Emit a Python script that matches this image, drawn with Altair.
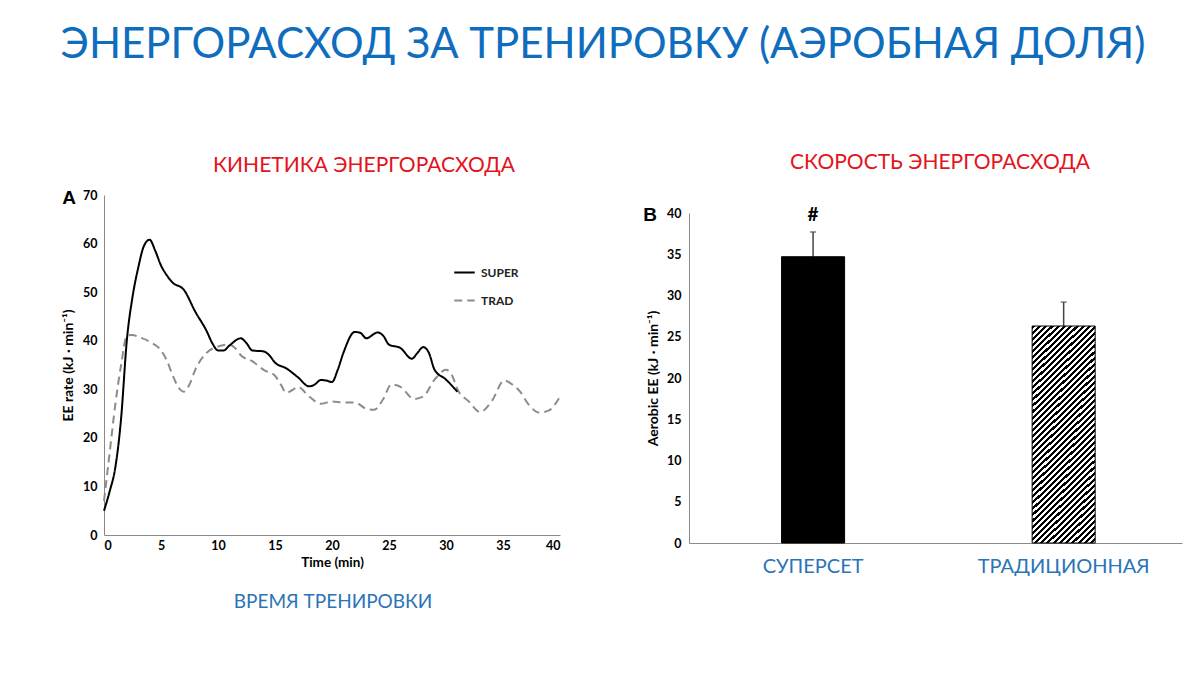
import altair as alt
import pandas as pd

# ---------------- data ----------------
series_names = ["SUPER", "TRAD"]

super_t = [0, 0.5, 1, 1.5, 2, 2.5, 3, 3.5, 4, 4.5, 5, 5.5, 6, 7, 8, 9, 9.5, 10, 10.5, 11,
           12, 12.5, 13, 14, 14.5, 15, 16, 17, 18, 18.5, 19, 19.5, 20, 20.5, 21, 22, 22.5,
           23, 24, 24.5, 25, 26, 27, 27.5, 28, 28.5, 29, 30, 31]
super_v = [5, 9, 14, 24, 40, 49, 55, 59.5, 60.8, 58.5, 55.5, 53.5, 52, 50.5, 46, 42, 39.5, 38, 38, 39,
           40.5, 39.5, 38, 37.8, 37, 35.5, 34.3, 32.5, 30.6, 31, 31.9, 31.8, 31.5, 34, 37.5, 41.8, 41.6,
           40.5, 41.7, 41, 39.2, 38.5, 36.3, 37.5, 38.7, 37.5, 34, 32, 29.5]

trad_t = [0, 0.5, 1, 1.5, 2, 2.5, 3, 4, 5, 5.5, 6, 6.5, 7, 7.5, 8, 9, 10, 11, 11.5, 12,
          13, 14, 15, 15.5, 16, 16.5, 17, 18, 19, 20, 21, 22, 23, 23.7, 24.5, 25.2, 26, 27.2,
          28, 29, 30, 30.5, 31, 32, 33, 34, 35.1, 35.8, 36.5, 37.2, 38.2, 39, 40]
trad_v = [7, 17, 27, 35, 41, 41.2, 40.8, 39.8, 38, 36, 33, 30.5, 29.5, 31, 34, 37.5, 38.8, 39.2, 38.5, 37,
          35.8, 34, 32.8, 31, 29.3, 29.8, 30.5, 28.5, 27, 27.5, 27.3, 27.3, 26, 25.8, 28, 31, 30.5, 28,
          28.5, 32, 34, 33, 30, 27.5, 25.3, 27.5, 31.8, 31, 29.5, 27, 25.2, 25.6, 28.5]

bar_cats = ["СУПЕРСЕТ", "ТРАДИЦИОННАЯ"]
bar_vals = [34.7, 26.3]
bar_err = [3.0, 2.9]

x_ticks_a = [0, 5, 10, 15, 20, 25, 30, 35, 40]
y_ticks_a = [0, 10, 20, 30, 40, 50, 60, 70]
y_ticks_b = [0, 5, 10, 15, 20, 25, 30, 35, 40]

main_title = ["ЭНЕРГОРАСХОД ЗА ТРЕНИРОВКУ (АЭРОБНАЯ ДОЛЯ)"]
sub_a = ["КИНЕТИКА ЭНЕРГОРАСХОДА"]
sub_b = ["СКОРОСТЬ ЭНЕРГОРАСХОДА"]
xnote_a = ["ВРЕМЯ ТРЕНИРОВКИ"]
panel_a = ["A"]
panel_b = ["B"]
sig_mark = ["#"]

# ---------------- styles ----------------
FONT = "Lato"
BLUE = "#0F6DBE"
BLUE2 = "#2A74B7"
RED = "#E3141C"
AXC = "#8A8A8A"

W_A, H_A = 456, 340
W_B, H_B = 493, 348

lines_df = pd.concat([
    pd.DataFrame({"t": super_t, "v": super_v, "s": series_names[0]}),
    pd.DataFrame({"t": trad_t, "v": trad_v, "s": series_names[1]}),
], ignore_index=True)

leg = alt.Legend(title=None, orient="none", legendX=349, legendY=66,
                 symbolType="stroke", symbolSize=420, symbolStrokeWidth=2,
                 labelFont=FONT, labelFontSize=12, labelFontWeight="bold",
                 labelColor="#222", rowPadding=10, padding=0, labelOffset=5)

color = alt.Color("s:N", scale=alt.Scale(domain=series_names, range=["#000000", "#8C8C8C"]), legend=leg)
dash = alt.StrokeDash("s:N", scale=alt.Scale(domain=series_names, range=[[1, 0], [8, 5]]), legend=leg)

xa = alt.X("t:Q", scale=alt.Scale(domain=[0, 40], nice=False),
           axis=alt.Axis(values=x_ticks_a, title="Time (min)", grid=False, ticks=False,
                         labelPadding=4, titlePadding=4, domainColor=AXC,
                         labelFont=FONT, labelFontSize=12.5, labelFontWeight="bold", labelColor="#000",
                         titleFont=FONT, titleFontSize=13.5, titleFontWeight="bold", titleColor="#000"))
ya = alt.Y("v:Q", scale=alt.Scale(domain=[0, 70], nice=False),
           axis=alt.Axis(values=y_ticks_a, title="EE rate (kJ · min⁻¹)", grid=False, ticks=False,
                         labelPadding=7, titlePadding=7, domainColor=AXC,
                         labelFont=FONT, labelFontSize=12.5, labelFontWeight="bold", labelColor="#000",
                         titleFont=FONT, titleFontSize=14, titleFontWeight="bold", titleColor="#000"))

base_lines = alt.Chart(lines_df)
trad_line = base_lines.transform_filter(alt.datum.s == "TRAD").mark_line(
    interpolate="monotone", strokeWidth=2).encode(x=xa, y=ya, color=color, strokeDash=dash)
super_line = base_lines.transform_filter(alt.datum.s == "SUPER").mark_line(
    interpolate="monotone", strokeWidth=2).encode(x=xa, y=ya, color=color, strokeDash=dash)


def label(txt, x, y, size, col, weight="normal", font=FONT):
    return alt.Chart(pd.DataFrame({"txt": txt})).mark_text(
        font=font, fontSize=size, fontWeight=weight, color=col, align="center", baseline="middle"
    ).encode(x=alt.value(x), y=alt.value(y), text="txt:N")


panel_A = alt.layer(
    trad_line, super_line,
    label(main_title, 499, -150, 42, BLUE),
    label(sub_a, 260, -29, 21, RED),
    label(panel_a, -35, 3, 19, "#000", "bold", "Liberation Sans"),
    label(xnote_a, 229, 407, 19, BLUE2),
).properties(width=W_A, height=H_A)

# ---------------- panel B ----------------
bars_df = pd.DataFrame({"cat": bar_cats, "v": bar_vals,
                        "hi": [v + e for v, e in zip(bar_vals, bar_err)]})

N = 46
stops = []
for i in range(N):
    a, b, c = i / N, (i + 0.5) / N, (i + 1) / N
    stops += [alt.GradientStop(offset=a, color="#000"), alt.GradientStop(offset=b, color="#000"),
              alt.GradientStop(offset=b, color="#fff"), alt.GradientStop(offset=c, color="#fff")]
hatch = alt.LinearGradient(gradient="linear", stops=stops, x1=0, y1=0, x2=0.334, y2=1.19)

xb = alt.X("cat:N", scale=alt.Scale(domain=bar_cats, paddingInner=0.7485, paddingOuter=0.358, align=0.516),
           axis=alt.Axis(title=None, labelAngle=0, ticks=False, labelPadding=13, domainColor=AXC,
                         labelFont=FONT, labelFontSize=20, labelColor=BLUE2, labelLimit=400))
yb = alt.Y("v:Q", scale=alt.Scale(domain=[0, 40], range=[H_B, 18], nice=False),
           axis=alt.Axis(values=y_ticks_b, title="Aerobic EE (kJ · min⁻¹)", grid=False, ticks=False,
                         labelPadding=8, titlePadding=6, domainColor=AXC,
                         labelFont=FONT, labelFontSize=12.5, labelFontWeight="bold", labelColor="#000",
                         titleFont=FONT, titleFontSize=14, titleFontWeight="bold", titleColor="#000"))

bbase = alt.Chart(bars_df)
err_rule = bbase.mark_rule(color="#444", strokeWidth=1.5).encode(x=xb, y=yb, y2="hi:Q")
err_cap = bbase.mark_tick(color="#444", size=6, thickness=1.5).encode(x=xb, y=alt.Y("hi:Q"))
bar_super = bbase.transform_filter(alt.datum.cat == bar_cats[0]).mark_bar(
    fill="#000", stroke="#000", strokeWidth=1).encode(x=xb, y=yb)
bar_trad = bbase.transform_filter(alt.datum.cat == bar_cats[1]).mark_bar(
    fill=hatch, stroke="#000", strokeWidth=1).encode(x=xb, y=yb)
hash_txt = bbase.transform_filter(alt.datum.cat == bar_cats[0]).transform_calculate(
    h="'" + sig_mark[0] + "'").mark_text(font=FONT, fontSize=19, fontWeight="bold", color="#000",
                                         baseline="middle").encode(x=xb, y=alt.value(20), text="h:N")

panel_B = alt.layer(
    err_rule, err_cap, bar_super, bar_trad, hash_txt,
    label(sub_b, 251, -32, 21, RED),
    label(panel_b, -39, 20, 19, "#000", "bold", "Liberation Sans"),
).properties(width=W_B, height=H_B)

chart = alt.hconcat(panel_A, panel_B, spacing=129, bounds="flush").properties(
    autosize=alt.AutoSizeParams(type="none"),
    padding={"left": 96, "top": 187, "right": 1184 - 96, "bottom": 659 - 187},
    background="white",
).configure_view(stroke=None)

chart.save("out.html", embed_options={"renderer": "svg", "actions": False})
